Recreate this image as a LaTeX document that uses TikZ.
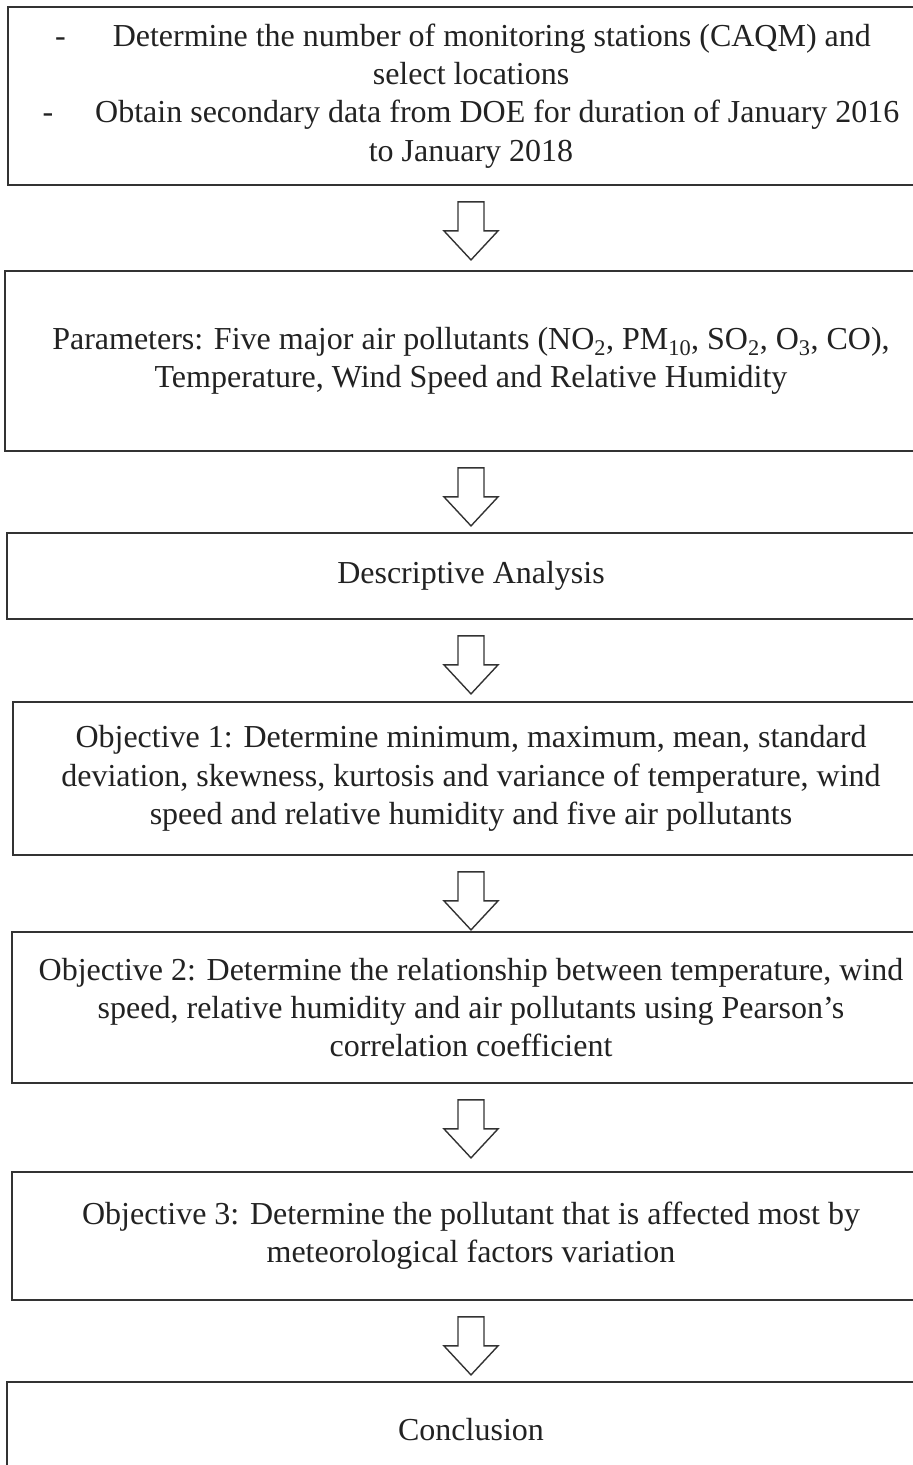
\documentclass[tikz,border=0pt]{standalone}
\usepackage{fontspec}
\setmainfont{Liberation Serif}
\usetikzlibrary{calc}
\definecolor{linegray}{HTML}{333333}
\definecolor{txt}{HTML}{222222}
\tikzset{
  flowbox/.style={draw=linegray, line width=1.8pt, rectangle, align=center, inner sep=0pt,
    text=txt, font=\fontsize{32}{38.2}\selectfont},
  blockarrow/.style={draw=linegray, line width=1.4pt, fill=white, line join=miter}
}
\newcommand{\flowarrow}[1]{%
  \draw[blockarrow] ($(#1.south)+(-13,-16)$) -- ++(26,0) -- ++(0,-29) -- ++(14,0)
    -- ++(-27,-29) -- ++(-27,29) -- ++(14,0) -- cycle;}
\begin{document}
\begin{tikzpicture}[x=1pt,y=1pt]
\path[use as bounding box] (0,0) rectangle (913,-1465);
\clip (0,0) rectangle (913,-1465);
\fill[white] (0,0) rectangle (913,-1465);

\node[flowbox, minimum width=926pt, minimum height=178pt] (b1) at (471,-96)
  {-\hspace{47pt}Determine the number of monitoring stations (CAQM) and\hspace*{16pt}\\
   select locations\\
   -\hspace{42pt}Obtain secondary data from DOE for duration of January 2016\hspace*{18pt}\\
   to January 2018};

\node[flowbox, minimum width=932pt, minimum height=180pt] (b2) at (471,-361)
  {Parameters: Five major air pollutants (NO\textsubscript{2}, PM\textsubscript{10}, SO\textsubscript{2}, O\textsubscript{3}, CO),\\
   Temperature, Wind Speed and Relative Humidity};

\node[flowbox, minimum width=928pt, minimum height=86pt] (b3) at (471,-576)
  {Descriptive Analysis};

\node[flowbox, minimum width=916pt, minimum height=153pt] (b4) at (471,-778.5)
  {Objective 1: Determine minimum, maximum, mean, standard\\
   deviation, skewness, kurtosis and variance of temperature, wind\\
   speed and relative humidity and five air pollutants};

\node[flowbox, minimum width=918pt, minimum height=151pt] (b5) at (471,-1007.5)
  {Objective 2: Determine the relationship between temperature, wind\\
   speed, relative humidity and air pollutants using Pearson's\\
   correlation coefficient};

\node[flowbox, minimum width=918pt, minimum height=128pt] (b6) at (471,-1236)
  {Objective 3: Determine the pollutant that is affected most by\\
   meteorological factors variation};

\node[flowbox, minimum width=928pt, minimum height=96pt] (b7) at (471,-1430)
  {Conclusion};

\flowarrow{b1}
\flowarrow{b2}
\flowarrow{b3}
\flowarrow{b4}
\flowarrow{b5}
\flowarrow{b6}
\end{tikzpicture}
\end{document}
